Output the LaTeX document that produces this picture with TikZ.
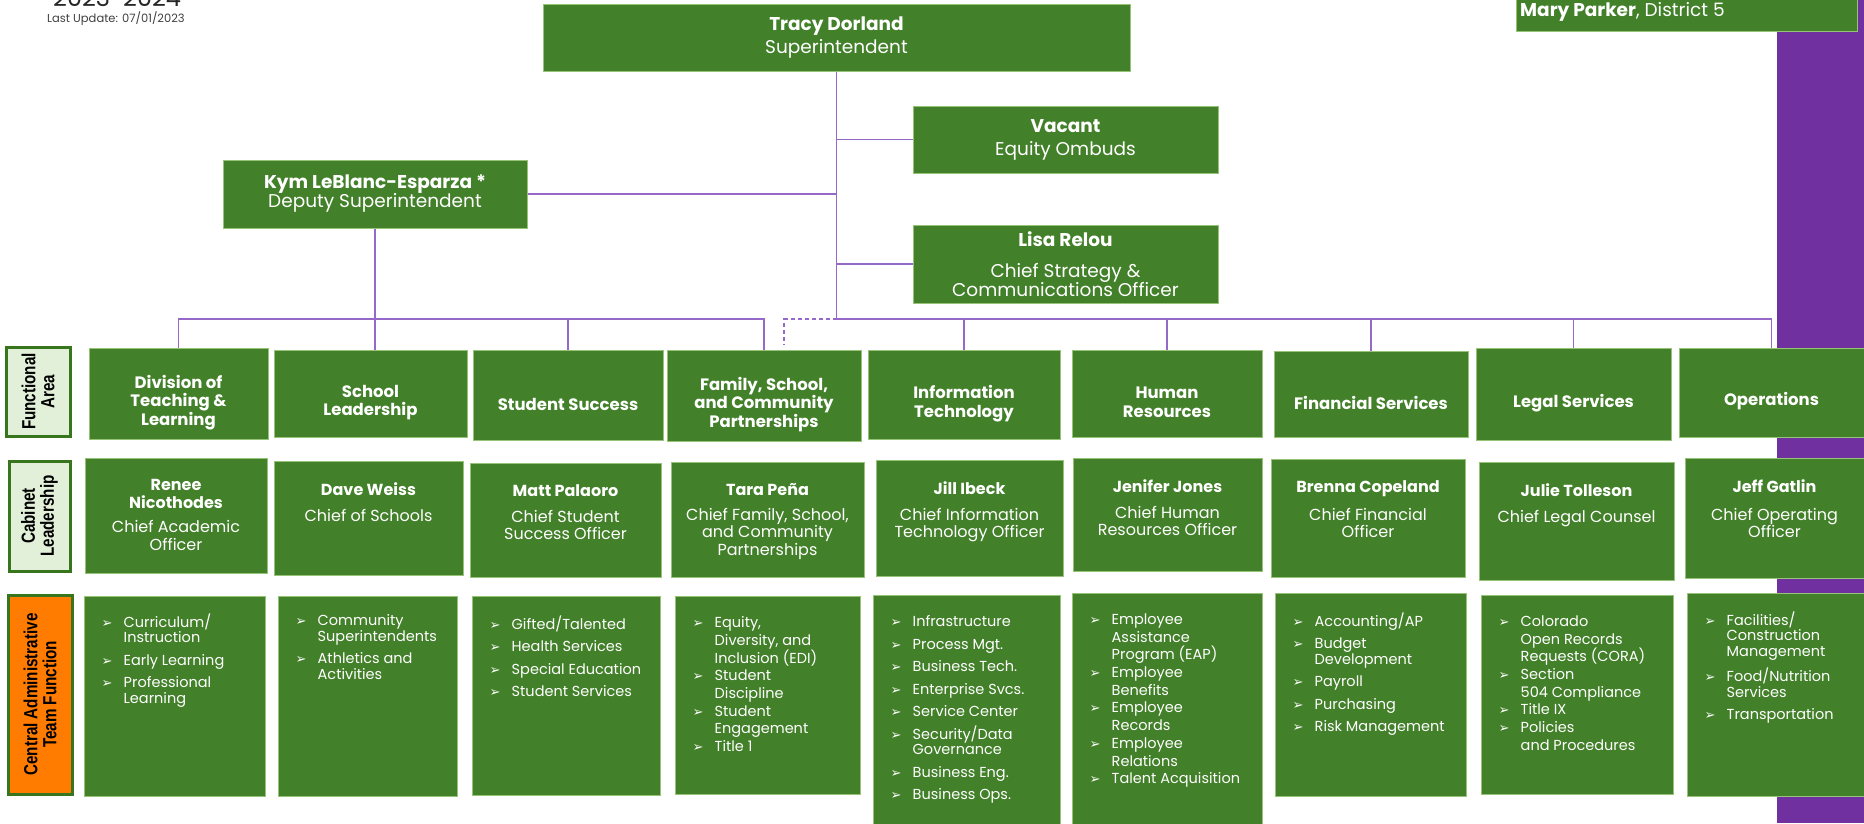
\documentclass[tikz,border=0pt]{standalone}
\usepackage{fontspec}
\setmainfont{Poppins}
\newfontfamily\tagfont[FakeStretch=0.8]{Liberation Sans}
\newfontfamily\arrowfont{DejaVu Sans}
\usetikzlibrary{positioning}
\definecolor{orggreen}{RGB}{66,128,41}
\definecolor{orgedge}{RGB}{150,195,120}
\definecolor{tagfill}{RGB}{226,240,217}
\definecolor{tagedge}{RGB}{56,118,29}
\definecolor{tagorange}{RGB}{255,124,0}
\definecolor{wirepurple}{RGB}{150,105,200}
\definecolor{barpurple}{RGB}{112,48,160}
\newcommand{\bul}{\makebox[22pt][l]{\arrowfont\fontsize{13}{13}\selectfont ➢}}
\newcommand{\bgap}{\hspace*{22pt}}

\begin{document}
\begin{tikzpicture}[x=1pt, y=-1pt,
    unit/.style={rectangle, fill=orggreen, draw=orgedge, line width=1pt, inner sep=0pt},
    unitname/.style={text=white, align=center, inner sep=0pt, font=\bfseries\fontsize{16.5}{18.5}\selectfont},
    toptext/.style={text=white, align=center, inner sep=0pt, font=\fontsize{18.5}{23}\selectfont},
    person/.style={text=white, align=center, inner sep=0pt, anchor=north, font=\fontsize{16}{17.5}\selectfont},
    tasks/.style={text=white, align=left, inner sep=0pt, anchor=north west, font=\fontsize{14.5}{15.5}\selectfont},
    tightlist/.style={tasks, font=\fontsize{14.5}{17.7}\selectfont},
    sidetag/.style={rectangle, draw=tagedge, line width=3pt, fill=tagfill, inner sep=0pt, rotate=90, align=center, font=\tagfont\bfseries\fontsize{19}{19}\selectfont},
    wire/.style={draw=wirepurple, line width=1.3pt}]
  \useasboundingbox (0,0) rectangle (1864,823);
  \fill[barpurple] (1777,0) rectangle (1864,823);

  \node[anchor=base west, inner sep=0pt, text=black!85, font=\fontsize{24}{24}\selectfont] (year) at (53,6) {2023-2024};
  \node[anchor=base west, inner sep=0pt, text=black!75, font=\fontsize{11.5}{12}\selectfont] (update) at (47,22) {Last Update: 07/01/2023};
  \node[unit, minimum width=341, minimum height=62, anchor=south west] (board) at (1516,32) {};
  \node[toptext, anchor=base west] (boardt) at (1520,16) {\textbf{Mary Parker}, District 5};

  \node[unit, toptext, minimum width=587, minimum height=67] (tracy) at (836.5,37.5) {\textbf{Tracy Dorland}\\Superintendent};
  \node[unit, toptext, minimum width=305, minimum height=67] (vacant) at (1065.5,139.5) {\textbf{Vacant}\\Equity Ombuds};
  \node[unit, toptext, minimum width=304, minimum height=68] (kym) at (375,194) {\textbf{Kym LeBlanc-Esparza *}\\[-4pt]Deputy Superintendent};
  \node[unit, toptext, minimum width=305, minimum height=78] (lisa) at (1065.5,264) {\textbf{Lisa Relou}\\[8pt]Chief Strategy \&\\[-4pt]Communications Officer};

  \node[sidetag, minimum width=89, minimum height=64] (tagfa) at (38,391.5) {Functional\\Area};
  \node[sidetag, minimum width=110, minimum height=61] (tagcb) at (39.5,516) {Cabinet\\Leadership};
  \node[sidetag, minimum width=199, minimum height=64, fill=tagorange] (tagtm) at (40,694.5) {Central Administrative\\Team Function};

  \node[unit, minimum width=179, minimum height=91] (fa1) at (178.5,393.5) {};
  \node[unit, minimum width=193, minimum height=87] (fa2) at (370.5,393.5) {};
  \node[unit, minimum width=190, minimum height=90] (fa3) at (568,395) {};
  \node[unit, minimum width=194, minimum height=91] (fa4) at (764,395.5) {};
  \node[unit, minimum width=192, minimum height=89] (fa5) at (964,394.5) {};
  \node[unit, minimum width=190, minimum height=87] (fa6) at (1167,393.5) {};
  \node[unit, minimum width=194, minimum height=86] (fa7) at (1371,394) {};
  \node[unit, minimum width=195, minimum height=92] (fa8) at (1573.5,394) {};
  \node[unit, minimum width=185, minimum height=89] (fa9) at (1771.5,392.5) {};
  \node[unitname] (fa1t) at ([yshift=-9pt]fa1.center) {Division of\\Teaching \&\\Learning};
  \node[unitname] (fa2t) at ([yshift=-9pt]fa2.center) {School\\Leadership};
  \node[unitname] (fa3t) at ([yshift=-9pt]fa3.center) {Student Success};
  \node[unitname] (fa4t) at ([yshift=-9pt]fa4.center) {Family, School,\\and Community\\Partnerships};
  \node[unitname] (fa5t) at ([yshift=-9pt]fa5.center) {Information\\Technology};
  \node[unitname] (fa6t) at ([yshift=-9pt]fa6.center) {Human\\Resources};
  \node[unitname] (fa7t) at ([yshift=-9pt]fa7.center) {Financial Services};
  \node[unitname] (fa8t) at ([yshift=-9pt]fa8.center) {Legal Services};
  \node[unitname] (fa9t) at ([yshift=-9pt]fa9.center) {Operations};

  \node[unit, minimum width=182, minimum height=115] (cb1) at (176,515.5) {};
  \node[unit, minimum width=189, minimum height=114] (cb2) at (368.5,518) {};
  \node[unit, minimum width=191, minimum height=114] (cb3) at (565.5,520) {};
  \node[unit, minimum width=193, minimum height=115] (cb4) at (767.5,519.5) {};
  \node[unit, minimum width=187, minimum height=116] (cb5) at (969.5,518) {};
  \node[unit, minimum width=189, minimum height=113] (cb6) at (1167.5,514.5) {};
  \node[unit, minimum width=194, minimum height=118] (cb7) at (1368,518) {};
  \node[unit, minimum width=195, minimum height=118] (cb8) at (1576.5,521) {};
  \node[unit, minimum width=179, minimum height=120] (cb9) at (1774.5,518) {};
  \node[person] (cb1t) at ([yshift=-22pt]cb1.north) {\textbf{Renee}\\\textbf{Nicothodes}\\[7pt]Chief Academic\\Officer};
  \node[person] (cb2t) at ([yshift=-22pt]cb2.north) {\textbf{Dave Weiss}\\[8pt]Chief of Schools};
  \node[person] (cb3t) at ([yshift=-22pt]cb3.north) {\textbf{Matt Palaoro}\\[8pt]Chief Student\\Success Officer};
  \node[person] (cb4t) at ([yshift=-22pt]cb4.north) {\textbf{Tara Peña}\\[7pt]Chief Family, School,\\and Community\\Partnerships};
  \node[person] (cb5t) at ([yshift=-22pt]cb5.north) {\textbf{Jill Ibeck}\\[8pt]Chief Information\\Technology Officer};
  \node[person] (cb6t) at ([yshift=-22pt]cb6.north) {\textbf{Jenifer Jones}\\[8pt]Chief Human\\Resources Officer};
  \node[person] (cb7t) at ([yshift=-22pt]cb7.north) {\textbf{Brenna Copeland}\\[10pt]Chief Financial\\Officer};
  \node[person] (cb8t) at ([yshift=-22pt]cb8.north) {\textbf{Julie Tolleson}\\[8pt]Chief Legal Counsel};
  \node[person] (cb9t) at ([yshift=-22pt]cb9.north) {\textbf{Jeff Gatlin}\\[10pt]Chief Operating\\Officer};

  \node[unit, minimum width=181, minimum height=200] (tm1) at (174.5,696) {};
  \node[unit, minimum width=179, minimum height=200] (tm2) at (367.5,696) {};
  \node[unit, minimum width=188, minimum height=199] (tm3) at (566,695.5) {};
  \node[unit, minimum width=185, minimum height=198] (tm4) at (767.5,695) {};
  \node[unit, minimum width=187, minimum height=238] (tm5) at (966.5,714) {};
  \node[unit, minimum width=190, minimum height=240] (tm6) at (1167,713) {};
  \node[unit, minimum width=191, minimum height=203] (tm7) at (1370.5,694.5) {};
  \node[unit, minimum width=192, minimum height=199] (tm8) at (1577,694.5) {};
  \node[unit, minimum width=177, minimum height=203] (tm9) at (1775.5,694.5) {};
  \node[tasks] (tm1t) at ([xshift=18pt,yshift=-18pt]tm1.north west) {\bul Curriculum/\\\bgap Instruction\\[7pt]\bul Early Learning\\[7pt]\bul Professional\\\bgap Learning};
  \node[tasks] (tm2t) at ([xshift=18pt,yshift=-19pt]tm2.north west) {\bul Community\\\bgap Superintendents\\[7pt]\bul Athletics and\\\bgap Activities};
  \node[tasks] (tm3t) at ([xshift=18pt,yshift=-20pt]tm3.north west) {\bul Gifted/Talented\\[7pt]\bul Health Services\\[7pt]\bul Special Education\\[7pt]\bul Student Services};
  \node[tightlist] (tm4t) at ([xshift=18pt,yshift=-21pt]tm4.north west) {\bul Equity,\\\bgap Diversity, and\\\bgap Inclusion (EDI)\\\bul Student\\\bgap Discipline\\\bul Student\\\bgap Engagement\\\bul Title 1};
  \node[tasks] (tm5t) at ([xshift=18pt,yshift=-21pt]tm5.north west) {\bul Infrastructure\\[7pt]\bul Process Mgt.\\[7pt]\bul Business Tech.\\[7pt]\bul Enterprise Svcs.\\[7pt]\bul Service Center\\[7pt]\bul Security/Data\\\bgap Governance\\[7pt]\bul Business Eng.\\[7pt]\bul Business Ops.};
  \node[tightlist] (tm6t) at ([xshift=18pt,yshift=-21pt]tm6.north west) {\bul Employee\\\bgap Assistance\\\bgap Program (EAP)\\\bul Employee\\\bgap Benefits\\\bul Employee\\\bgap Records\\\bul Employee\\\bgap Relations\\\bul Talent Acquisition};
  \node[tasks] (tm7t) at ([xshift=18pt,yshift=-20pt]tm7.north west) {\bul Accounting/AP\\[7pt]\bul Budget\\\bgap Development\\[7pt]\bul Payroll\\[7pt]\bul Purchasing\\[7pt]\bul Risk Management};
  \node[tightlist] (tm8t) at ([xshift=18pt,yshift=-21pt]tm8.north west) {\bul Colorado\\\bgap Open Records\\\bgap Requests (CORA)\\\bul Section\\\bgap 504 Compliance\\\bul Title IX\\\bul Policies\\\bgap and Procedures};
  \node[tasks] (tm9t) at ([xshift=18pt,yshift=-19pt]tm9.north west) {\bul Facilities/\\\bgap Construction\\\bgap Management\\[7pt]\bul Food/Nutrition\\\bgap Services\\[7pt]\bul Transportation};

  \coordinate (bus) at (0,319);
  \coordinate (dashend) at (784,345);
  \draw[wire] (tracy.south) -- (tracy.south |- bus) -- (fa9.north |- bus) -- (fa9.north);
  \draw[wire] (vacant.west) -- (vacant.west -| tracy.south);
  \draw[wire] (kym.east) -- (kym.east -| tracy.south);
  \draw[wire] (lisa.west) -- (lisa.west -| tracy.south);
  \draw[wire] (kym.south) -- (kym.south |- fa2.north);
  \draw[wire] (fa1.north) -- (fa1.north |- bus) -- (fa4.north |- bus) -- (fa4.north);
  \draw[wire] (fa3.north) -- (fa3.north |- bus);
  \foreach \n in {fa5,fa6,fa7,fa8}
    \draw[wire] (\n.north) -- (\n.north |- bus);
  \draw[wire, dash pattern=on 4pt off 3pt] (tracy.south |- bus) -| (dashend);
\end{tikzpicture}
\end{document}
